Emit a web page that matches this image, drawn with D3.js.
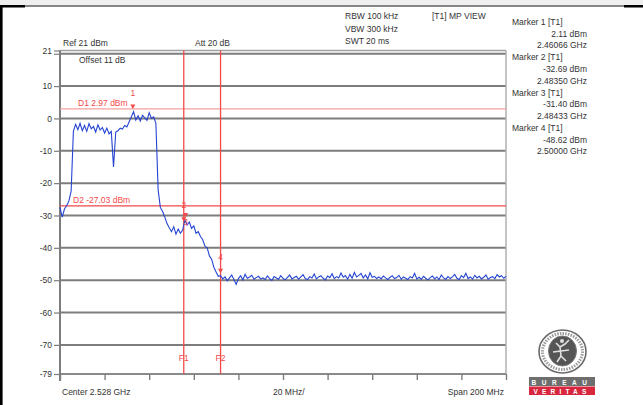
<!DOCTYPE html>
<html>
<head>
<meta charset="utf-8">
<script src="https://cdn.jsdelivr.net/npm/d3@7"></script>
<style>
  body { margin: 0; background: #fff; }
  svg { display: block; font-family: "Liberation Sans", Arial, sans-serif; }
</style>
</head>
<body>
<svg id="chart"></svg>
<script>
// spectrum trace, 1 MHz steps starting at 2428 MHz (dBm)
const traceStartMHz = 2428;
const traceStepMHz = 1;
const traceLevels = [
  -27.5, -30.5, -28.0, -27.0, -25.5, -22.5, -4.0, -1.8, -3.5, -1.5,
  -3.8, -2.2, -4.0, -1.6, -3.2, -2.5, -4.2, -2.0, -3.6, -2.8,
  -4.5, -3.0, -4.8, -4.0, -15.0, -4.2, -3.8, -3.0, -3.3, -2.2,
  -2.6, -1.0, 0.5, 2.1, -0.5, 0.8, -0.8, 1.0, 0.2, -0.6,
  1.8, 0.0, 0.5, -1.5, -22.0, -27.5, -28.8, -30.5, -32.5, -33.8,
  -35.0, -33.5, -35.8, -34.2, -35.5, -34.5, -31.4, -33.0, -32.0, -34.0,
  -33.2, -35.5, -35.0, -36.5, -37.5, -39.5, -40.0, -42.5, -43.5, -46.0,
  -47.5, -48.8, -48.6, -49.6, -49.0, -50.2, -49.3, -48.4, -49.8, -51.3,
  -49.5, -48.6, -49.9, -48.2, -49.4, -49.0, -48.5, -49.7, -49.2, -48.8,
  -49.6, -49.3, -49.8, -48.7, -49.5, -50.1, -48.9, -49.3, -49.7, -48.6,
  -49.4, -49.9, -49.1, -48.4, -49.6, -49.2, -48.8, -49.7, -49.0, -48.3,
  -49.5, -49.8, -48.9, -49.3, -48.1, -49.6, -49.0, -48.6, -49.4, -49.9,
  -48.7, -49.2, -48.0, -49.5, -48.9, -49.3, -47.8, -49.1, -48.6, -49.7,
  -48.2, -49.4, -47.6, -49.0, -48.5, -47.9, -49.3, -48.4, -49.6, -47.7,
  -49.1, -48.8, -49.5, -49.0, -49.6, -48.7, -49.3, -49.8, -49.1, -48.6,
  -49.5, -49.2, -48.5, -49.7, -49.0, -49.4, -49.8, -48.9, -49.3, -47.9,
  -49.6, -49.1, -49.7, -48.8, -49.4, -49.9, -49.2, -48.7, -49.6, -49.0,
  -49.8, -48.4, -49.3, -49.7, -48.9, -49.5, -49.0, -48.2, -49.4, -49.8,
  -48.6, -49.2, -47.9, -49.5, -49.0, -49.7, -48.5, -49.3, -48.8, -49.6,
  -49.1, -48.4, -49.7, -49.2, -48.9, -49.5, -48.3, -49.0, -48.6, -49.4,
  -48.8
];

// axis
const refLevel = 21;
const bottomLevel = -79;
const yTickValues = [21, 20, 10, 0, -10, -20, -30, -40, -50, -60, -70, -79];
const gridLevels = [20, 10, 0, -10, -20, -30, -40, -50, -60, -70];
const centerMHz = 2528;
const spanMHz = 200;
const xTickStepMHz = 20;

// display / frequency lines
const displayLineNames = ["D1", "D2"];
const displayLineLevels = [2.97, -27.03];
const freqLineNames = ["F1", "F2"];
const freqLineMHz = [2483.5, 2500];

// markers
const markerIds = [1, 2, 3, 4];
const markerLevels = [2.11, -32.69, -31.40, -48.62];
const markerFreqGHz = [2.46066, 2.48350, 2.48433, 2.50000];

// header text
const settingsText = ["RBW 100 kHz", "VBW 300 kHz", "SWT 20 ms"];
const topLeftText = ["Ref 21 dBm", "Att  20 dB", "Offset 11 dB"];
const traceModeText = "[T1] MP VIEW";
const bottomText = ["Center 2.528 GHz", "20 MHz/", "Span 200 MHz"];

const width = 643, height = 405;
const plotL = 60, plotR = 506, plotT = 50.5, plotB = 374;

// analyzer style numbers use a plain hyphen
const fmt = spec => {
  const f = d3.format(spec);
  return v => f(v).replace("\u2212", "-");
};
const f2 = fmt(".2f"), f5 = fmt(".5f"), fInt = fmt("d");

const svg = d3.select("#chart").attr("width", width).attr("height", height);

// page frame
svg.append("rect").attr("x", 0).attr("y", 0).attr("width", width).attr("height", 5.5).attr("fill", "#efefef");
svg.append("line").attr("x1", 0).attr("x2", width).attr("y1", 6).attr("y2", 6).attr("stroke", "#111").attr("stroke-width", 1.2);
svg.append("rect").attr("x", 0).attr("y", 5).attr("width", 25).attr("height", 2.5).attr("fill", "#000");
svg.append("rect").attr("x", 624).attr("y", 5).attr("width", 19).attr("height", 2.5).attr("fill", "#000");
svg.append("rect").attr("x", 0).attr("y", 5).attr("width", 2.6).attr("height", height - 5).attr("fill", "#000");

const x = d3.scaleLinear()
  .domain([centerMHz - spanMHz / 2, centerMHz + spanMHz / 2])
  .range([plotL, plotR]);
const y = d3.scaleLinear()
  .domain([bottomLevel, refLevel])
  .range([plotB, plotT]);

const textColor = "#333";
const fs = "8.5px";

// grid lines
svg.append("g").selectAll("line")
  .data(gridLevels)
  .enter().append("line")
  .attr("x1", plotL).attr("x2", plotR)
  .attr("y1", d => y(d)).attr("y2", d => y(d))
  .attr("stroke", "#7d7d7d").attr("stroke-width", 2);

// top border, right border, bottom border
svg.append("line").attr("x1", plotL).attr("x2", plotR).attr("y1", y(refLevel)).attr("y2", y(refLevel))
  .attr("stroke", "#a0a0a0").attr("stroke-width", 1.5);
svg.append("line").attr("x1", plotR).attr("x2", plotR).attr("y1", y(refLevel)).attr("y2", plotB)
  .attr("stroke", "#b0b0b0").attr("stroke-width", 1.5);
svg.append("line").attr("x1", plotL).attr("x2", plotR).attr("y1", plotB).attr("y2", plotB)
  .attr("stroke", "#8a8a8a").attr("stroke-width", 2);

// y axis
const yAxis = svg.append("g")
  .attr("transform", `translate(${plotL},0)`)
  .call(d3.axisLeft(y).tickValues(yTickValues).tickSize(6).tickPadding(2)
    .tickFormat(d => d === 20 ? "" : fInt(d)));
yAxis.select(".domain").attr("stroke", "#7d7d7d").attr("stroke-width", 2).attr("d", `M0,${plotT}V${plotB + 7}`);
yAxis.selectAll(".tick line").attr("stroke", "#7d7d7d").attr("stroke-width", 1.2);
yAxis.selectAll(".tick text").attr("fill", textColor).style("font-size", fs).style("font-family", "Liberation Sans, Arial, sans-serif");

// x axis ticks (no labels)
const xTicks = d3.range(centerMHz - spanMHz / 2, centerMHz + spanMHz / 2 + 1, xTickStepMHz);
const xAxis = svg.append("g")
  .attr("transform", `translate(0,${plotB})`)
  .call(d3.axisBottom(x).tickValues(xTicks).tickSize(6).tickFormat(""));
xAxis.select(".domain").remove();
xAxis.selectAll(".tick line").attr("stroke", "#7d7d7d").attr("stroke-width", 1.4);

const red = "#f24a4a";

// display lines
svg.append("g").selectAll("line")
  .data(displayLineLevels)
  .enter().append("line")
  .attr("x1", plotL).attr("x2", plotR)
  .attr("y1", d => y(d)).attr("y2", d => y(d))
  .attr("stroke", (d, i) => i === 0 ? "#f7a0a0" : red).attr("stroke-width", 1.4);

svg.append("g").selectAll("text")
  .data(displayLineLevels)
  .enter().append("text")
  .attr("x", (d, i) => i === 0 ? 78 : 73)
  .attr("y", d => y(d) - 2.5)
  .attr("fill", red)
  .style("font-size", fs)
  .text((d, i) => `${displayLineNames[i]} ${f2(d)} dBm`);

// frequency lines
svg.append("g").selectAll("line")
  .data(freqLineMHz)
  .enter().append("line")
  .attr("x1", d => x(d)).attr("x2", d => x(d))
  .attr("y1", y(refLevel)).attr("y2", plotB)
  .attr("stroke", red).attr("stroke-width", 1.3);

svg.append("g").selectAll("text")
  .data(freqLineMHz)
  .enter().append("text")
  .attr("x", d => x(d))
  .attr("y", 361)
  .attr("text-anchor", "middle")
  .attr("fill", red)
  .style("font-size", fs)
  .text((d, i) => freqLineNames[i]);

// trace
const trace = traceLevels.map((v, i) => [traceStartMHz + i * traceStepMHz, v]);
svg.append("path")
  .datum(trace)
  .attr("fill", "none")
  .attr("stroke", "#2545d2")
  .attr("stroke-width", 1.1)
  .attr("d", d3.line().x(d => x(d[0])).y(d => y(d[1])));

// marker symbols
const markers = markerIds.map((id, i) => ({ id, mhz: markerFreqGHz[i] * 1000, level: markerLevels[i] }));
const mg = svg.append("g");
markers.forEach((m, i) => {
  const mx = x(m.mhz), my = y(m.level);
  const stacked = i > 0 && Math.abs(x(markers[i - 1].mhz) - mx) < 6;
  mg.append("path")
    .attr("d", `M${mx - 2.5},${my - 7}L${mx + 2.5},${my - 7}L${mx},${my - 2.5}Z`)
    .attr("fill", red);
  mg.append("text")
    .attr("x", mx).attr("y", stacked ? my + 5 : my - 16)
    .attr("text-anchor", "middle")
    .attr("fill", red)
    .style("font-size", fs)
    .text(m.id);
});

// header texts
const tg = svg.append("g").attr("fill", textColor).style("font-size", fs);
settingsText.forEach((t, i) => {
  tg.append("text").attr("x", 345).attr("y", 19 + i * 12.6).text(t);
});
tg.append("text").attr("x", 432).attr("y", 19).text(traceModeText);
tg.append("text").attr("x", 63).attr("y", 46).text(topLeftText[0]);
tg.append("text").attr("x", 195).attr("y", 46).text(topLeftText[1]);
tg.append("text").attr("x", 79).attr("y", 63).text(topLeftText[2]);

// marker readout
markers.forEach((m, i) => {
  const base = 25 + i * 35.3;
  tg.append("text").attr("x", 512).attr("y", base).text(`Marker ${m.id} [T1]`);
  tg.append("text").attr("x", 587).attr("y", base + 11.7).attr("text-anchor", "end")
    .text(`${f2(m.level)} dBm`);
  tg.append("text").attr("x", 587).attr("y", base + 23.4).attr("text-anchor", "end")
    .text(`${f5(markerFreqGHz[i])} GHz`);
});

// bottom texts
tg.append("text").attr("x", 62).attr("y", 395).text(bottomText[0]);
tg.append("text").attr("x", 273).attr("y", 395).text(bottomText[1]);
tg.append("text").attr("x", 504).attr("y", 395).attr("text-anchor", "end").text(bottomText[2]);

// Bureau Veritas badge
const logo = svg.append("g");
logo.append("ellipse").attr("cx", 562.5).attr("cy", 351.5).attr("rx", 23.5).attr("ry", 21.5)
  .attr("fill", "#fff").attr("stroke", "#6a6a6a").attr("stroke-width", 1.6);
logo.append("ellipse").attr("cx", 562.5).attr("cy", 351.5).attr("rx", 20).attr("ry", 18)
  .attr("fill", "none").attr("stroke", "#9a9a9a").attr("stroke-width", 3).attr("stroke-dasharray", "1.5 1.2");
logo.append("ellipse").attr("cx", 562.5).attr("cy", 351).attr("rx", 14).attr("ry", 15)
  .attr("fill", "#555").attr("stroke", "#777").attr("stroke-width", 1);
logo.append("path")
  .attr("d", "M556,343 L560,347 L565,344 L569,340 M560,347 L561,356 L557,362 M561,356 L566,361 M553,352 L569,350")
  .attr("fill", "none").attr("stroke", "#e0e0e0").attr("stroke-width", 1.6);
logo.append("circle").attr("cx", 562).attr("cy", 341).attr("r", 2).attr("fill", "#e0e0e0");
logo.append("rect").attr("x", 529).attr("y", 377).attr("width", 66).attr("height", 9).attr("fill", "#6e6e6e");
logo.append("rect").attr("x", 529).attr("y", 386.5).attr("width", 66).attr("height", 8.5).attr("fill", "#d7263d");
logo.append("text").attr("x", 562).attr("y", 384.5).attr("text-anchor", "middle")
  .attr("fill", "#fff").style("font-size", "6.5px").style("font-weight", "bold").attr("letter-spacing", 5.5).text("BUREAU");
logo.append("text").attr("x", 562).attr("y", 393.5).attr("text-anchor", "middle")
  .attr("fill", "#fff").style("font-size", "6.5px").style("font-weight", "bold").attr("letter-spacing", 4.2).text("VERITAS");
</script>
</body>
</html>
